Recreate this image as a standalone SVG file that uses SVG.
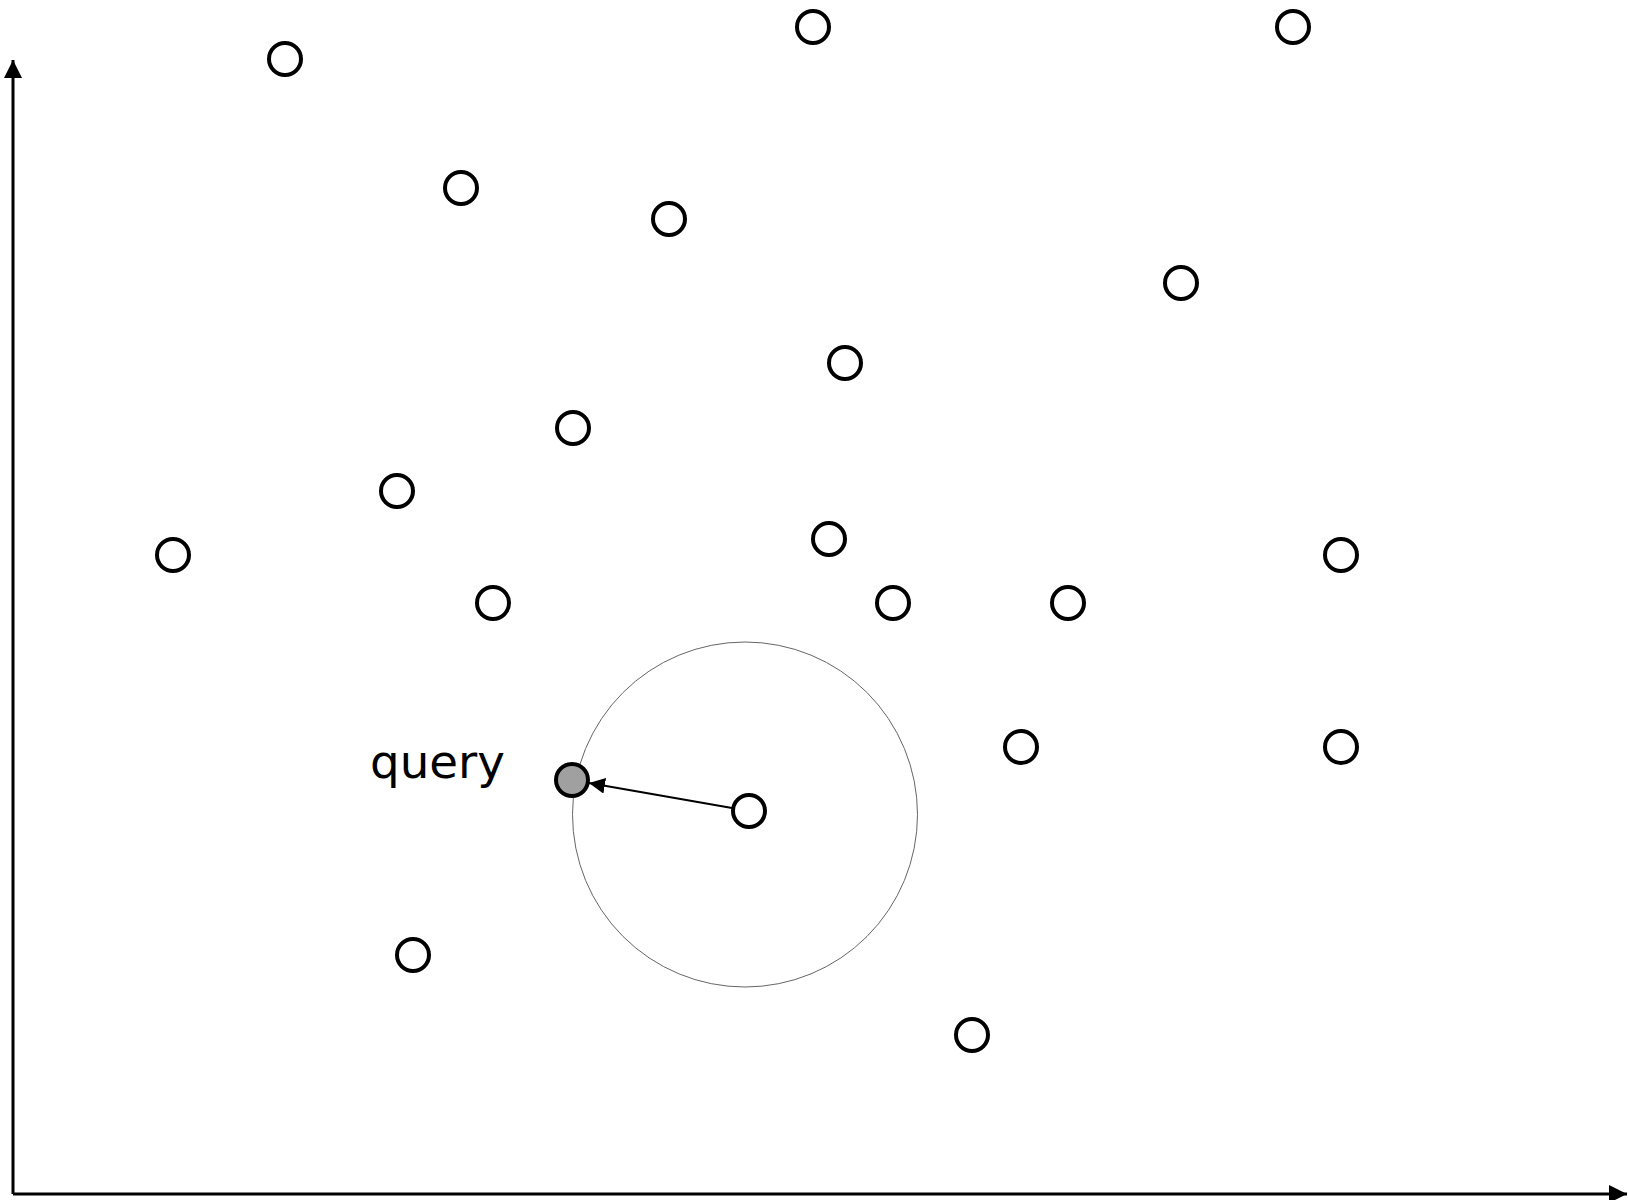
<svg xmlns="http://www.w3.org/2000/svg" width="1628" height="1200" viewBox="0 0 1628 1200">
<style>
.n{fill:#fff;stroke:#000;stroke-width:4}
.q{fill:#a0a0a0;stroke:#000;stroke-width:4}
.ax{stroke:#000;stroke-width:3;fill:none}
.lbl{font-family:"Comic Sans MS","DejaVu Sans",sans-serif;font-size:46px;fill:#000}
</style>
<defs>
<marker id="ah" viewBox="0 0 10 10" refX="10" refY="5" markerWidth="6" markerHeight="6" markerUnits="strokeWidth" orient="auto">
<path d="M0,0 L10,5 L0,10 z" fill="#000"/>
</marker>
<marker id="ah2" viewBox="0 0 10 10" refX="10" refY="5" markerWidth="8" markerHeight="8" markerUnits="strokeWidth" orient="auto">
<path d="M0,0 L10,5 L0,10 z" fill="#000"/>
</marker>
</defs>
<g id="axes">
<line class="ax" x1="13" y1="1194" x2="13" y2="60" marker-end="url(#ah)"/>
<line class="ax" x1="13" y1="1194" x2="1627" y2="1194" marker-end="url(#ah)"/>
</g>
<g id="range">
<circle cx="745" cy="814.5" r="172.5" fill="none" stroke="#666" stroke-width="1"/>
</g>
<g id="connectors">
<line x1="732" y1="808" x2="589" y2="783" stroke="#000" stroke-width="2" marker-end="url(#ah2)"/>
</g>
<g id="nodes">
<g id="p1"><circle class="n" cx="285" cy="59" r="16"/></g>
<g id="p2"><circle class="n" cx="813" cy="27" r="16"/></g>
<g id="p3"><circle class="n" cx="1293" cy="27" r="16"/></g>
<g id="p4"><circle class="n" cx="461" cy="188" r="16"/></g>
<g id="p5"><circle class="n" cx="669" cy="219" r="16"/></g>
<g id="p6"><circle class="n" cx="1181" cy="283" r="16"/></g>
<g id="p7"><circle class="n" cx="845" cy="363" r="16"/></g>
<g id="p8"><circle class="n" cx="573" cy="428" r="16"/></g>
<g id="p9"><circle class="n" cx="397" cy="491" r="16"/></g>
<g id="p10"><circle class="n" cx="173" cy="555" r="16"/></g>
<g id="p11"><circle class="n" cx="829" cy="539" r="16"/></g>
<g id="p12"><circle class="n" cx="1341" cy="555" r="16"/></g>
<g id="p13"><circle class="n" cx="493" cy="603" r="16"/></g>
<g id="p14"><circle class="n" cx="893" cy="603" r="16"/></g>
<g id="p15"><circle class="n" cx="1068" cy="603" r="16"/></g>
<g id="p16"><circle class="n" cx="1021" cy="747" r="16"/></g>
<g id="p17"><circle class="n" cx="1341" cy="747" r="16"/></g>
<g id="query"><circle class="q" cx="572" cy="780" r="16"/><text class="lbl" x="370" y="778" textLength="135" lengthAdjust="spacingAndGlyphs">query</text></g>
<g id="center"><circle class="n" cx="749" cy="811" r="16"/></g>
<g id="p20"><circle class="n" cx="413" cy="955" r="16"/></g>
<g id="p21"><circle class="n" cx="972" cy="1035" r="16"/></g>
</g>
</svg>
